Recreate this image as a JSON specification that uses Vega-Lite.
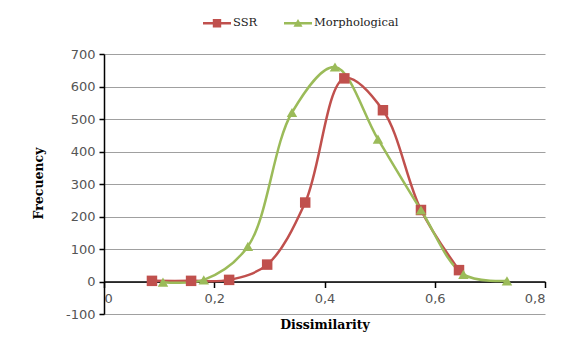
{
  "$schema": "https://vega.github.io/schema/vega-lite/v6.json",
  "width": 441,
  "height": 260,
  "autosize": {"type": "none"},
  "padding": {"left": 104, "top": 54, "right": 35, "bottom": 36},
  "background": "white",
  "config": {"view": {"stroke": null}},
  "data": {
    "values": [
      {"series": "SSR", "d": 0.087, "freq": 2},
      {"series": "SSR", "d": 0.158, "freq": 2},
      {"series": "SSR", "d": 0.227, "freq": 5},
      {"series": "SSR", "d": 0.296, "freq": 52},
      {"series": "SSR", "d": 0.365, "freq": 243},
      {"series": "SSR", "d": 0.436, "freq": 625},
      {"series": "SSR", "d": 0.506, "freq": 527},
      {"series": "SSR", "d": 0.575, "freq": 220},
      {"series": "SSR", "d": 0.644, "freq": 35},
      {"series": "Morphological", "d": 0.107, "freq": -2},
      {"series": "Morphological", "d": 0.181, "freq": 5},
      {"series": "Morphological", "d": 0.261, "freq": 108},
      {"series": "Morphological", "d": 0.341, "freq": 520},
      {"series": "Morphological", "d": 0.419, "freq": 660},
      {"series": "Morphological", "d": 0.497, "freq": 438},
      {"series": "Morphological", "d": 0.575, "freq": 220},
      {"series": "Morphological", "d": 0.652, "freq": 22},
      {"series": "Morphological", "d": 0.731, "freq": 2}
    ]
  },
  "encoding": {
    "x": {
      "field": "d",
      "type": "quantitative",
      "scale": {"domain": [0, 0.8], "nice": false, "zero": false},
      "axis": {
        "values": [0, 0.2, 0.4, 0.6, 0.8],
        "offset": -32.5,
        "grid": false,
        "domainColor": "black",
        "domainWidth": 1.5,
        "tickColor": "black",
        "tickWidth": 1.5,
        "tickSize": 6,
        "labelFont": "DejaVu Sans",
        "labelFontSize": 13,
        "labelColor": "#555555",
        "labelPadding": 5,
        "labelExpr": "datum.value == 0 ? '0' : replace(format(datum.value, '.1f'), '.', ',')",
        "title": "Dissimilarity",
        "titleFont": "DejaVu Serif",
        "titleFontSize": 12.5,
        "titleFontWeight": "bold",
        "titleColor": "black",
        "titleY": 46.5,
        "titleBaseline": "alphabetic"
      }
    },
    "y": {
      "field": "freq",
      "type": "quantitative",
      "scale": {"domain": [-100, 700], "nice": false, "zero": false},
      "axis": {
        "values": [-100, 0, 100, 200, 300, 400, 500, 600, 700],
        "grid": true,
        "gridColor": "#a0a0a0",
        "gridWidth": 1,
        "domainColor": "black",
        "domainWidth": 1.5,
        "tickColor": "black",
        "tickWidth": 1.5,
        "tickSize": 5,
        "labelFont": "DejaVu Sans",
        "labelFontSize": 13,
        "labelColor": "#555555",
        "labelPadding": 4,
        "labelExpr": "datum.value < 0 ? '-' + (-datum.value) : '' + datum.value",
        "title": "Frecuency",
        "titleFont": "DejaVu Serif",
        "titleFontSize": 12.5,
        "titleFontWeight": "bold",
        "titleColor": "black",
        "titleAngle": -90,
        "titleX": -62,
        "titleY": 129,
        "titleAlign": "center",
        "titleBaseline": "alphabetic"
      }
    }
  },
  "layer": [
    {
      "mark": {"type": "line", "interpolate": "catmull-rom", "strokeWidth": 2.5},
      "encoding": {
        "color": {
          "field": "series",
          "type": "nominal",
          "scale": {"domain": ["SSR", "Morphological"], "range": ["#C0504D", "#9BBB59"]},
          "legend": null
        }
      }
    },
    {
      "mark": {"type": "point", "filled": true, "opacity": 1, "size": 110},
      "encoding": {
        "color": {
          "field": "series",
          "type": "nominal",
          "scale": {"domain": ["SSR", "Morphological"], "range": ["#C0504D", "#9BBB59"]},
          "legend": null
        },
        "shape": {
          "field": "series",
          "type": "nominal",
          "scale": {"domain": ["SSR", "Morphological"], "range": ["square", "triangle-up"]},
          "legend": null
        }
      }
    },
    {
      "transform": [{"filter": "datum.freq > 100000"}],
      "mark": {"type": "point", "filled": true, "opacity": 1, "size": 196},
      "encoding": {
        "color": {
          "field": "series",
          "type": "nominal",
          "scale": {"domain": ["SSR", "Morphological"], "range": ["#C0504D", "#9BBB59"]},
          "legend": {
            "orient": "none",
            "legendX": 106,
            "legendY": -38,
            "direction": "horizontal",
            "title": null,
            "padding": 0,
            "symbolSize": 196,
            "symbolStrokeWidth": 0,
            "symbolOpacity": 1,
            "labelFont": "DejaVu Serif",
            "labelFontSize": 11.5,
            "labelColor": "#222",
            "labelOffset": 9,
            "columnPadding": 26
          }
        },
        "shape": {
          "field": "series",
          "type": "nominal",
          "scale": {
            "domain": ["SSR", "Morphological"],
            "range": [
              "M-2,-0.18 L2,-0.18 L2,0.18 L-2,0.18 Z M-0.6,-0.6 L0.6,-0.6 L0.6,0.6 L-0.6,0.6 Z",
              "M-2,-0.18 L2,-0.18 L2,0.18 L-2,0.18 Z M0,-0.62 L0.65,0.5 L-0.65,0.5 Z"
            ]
          },
          "legend": {
            "orient": "none",
            "legendX": 106,
            "legendY": -38,
            "direction": "horizontal",
            "title": null,
            "padding": 0,
            "symbolSize": 196,
            "symbolStrokeWidth": 0,
            "symbolOpacity": 1,
            "labelFont": "DejaVu Serif",
            "labelFontSize": 11.5,
            "labelColor": "#222",
            "labelOffset": 9,
            "columnPadding": 26
          }
        }
      }
    }
  ],
  "resolve": {"scale": {"shape": "independent", "color": "independent"}}
}
